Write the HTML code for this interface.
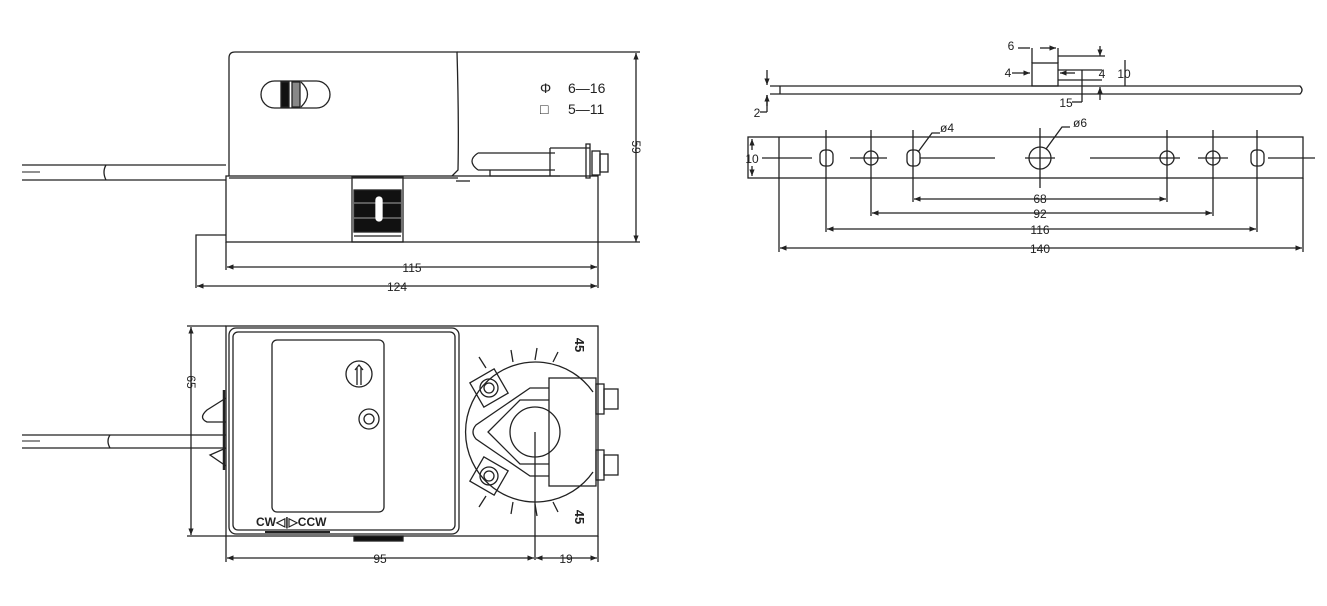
<!DOCTYPE html>
<html><head><meta charset="utf-8"><style>
html,body{margin:0;padding:0;background:#fff}
svg{display:block}
text{font-family:"Liberation Sans",sans-serif;fill:#222}
</style></head><body>
<svg width="1327" height="606" viewBox="0 0 1327 606" xmlns="http://www.w3.org/2000/svg">
<defs>
<marker id="a" viewBox="0 0 10 10" refX="10" refY="5" markerWidth="6" markerHeight="5" orient="auto-start-reverse"><path d="M0,1 L10,5 L0,9 z" fill="#222"/></marker>
</defs>
<g stroke="#222" stroke-width="1.3" fill="none">
<!-- ===== TOP LEFT VIEW ===== -->
<path d="M229,176 V58 Q229,52 235,52 H457 Q459,120 458,170 L452,176"/>
<line x1="457" y1="52" x2="640" y2="52"/>
<rect x="226" y="176" width="372" height="66"/>
<line x1="229" y1="178" x2="458" y2="178"/>
<path d="M226,235 H196 V288"/>
<line x1="598" y1="242" x2="598" y2="288"/>
<line x1="226" y1="242" x2="226" y2="270"/>
<!-- slot -->
<rect x="352" y="177" width="51" height="65"/>
<rect x="354" y="190" width="47" height="42" fill="#111"/>
<line x1="354" y1="203" x2="401" y2="203" stroke="#888"/>
<line x1="354" y1="218" x2="401" y2="218" stroke="#888"/>
<rect x="376" y="197" width="6" height="24" rx="3" fill="#fff" stroke="#fff"/>
<line x1="354" y1="236" x2="401" y2="236"/>
<!-- switch pill -->
<rect x="261" y="81" width="69" height="27" rx="13.5"/>
<rect x="281" y="82" width="8" height="25" fill="#111"/>
<rect x="292" y="82" width="8" height="25" fill="#888"/>
<path d="M301,82 Q314,94 301,107"/>
<!-- bracket right -->
<path d="M478,153 H555 M478,170 H555 M478,153 Q466,161 478,170"/>
<path d="M490,170 V176 H560 M550,148 H590 M550,148 V176 M590,144 V178 H586 V144 z"/>
<rect x="592" y="151" width="8" height="24"/>
<rect x="600" y="154" width="8" height="18"/>
<line x1="456" y1="181" x2="470" y2="181"/>
<!-- wire -->
<path d="M22,165 H226 M22,180 H226 M106,165 Q102,172 106,180"/>
<line x1="22" y1="172" x2="40" y2="172" stroke-width="1"/>
<!-- dims -->
<line x1="636" y1="53" x2="636" y2="242" marker-start="url(#a)" marker-end="url(#a)"/>
<line x1="598" y1="242" x2="640" y2="242"/>
<line x1="227" y1="267" x2="597" y2="267" marker-start="url(#a)" marker-end="url(#a)"/>
<line x1="197" y1="286" x2="597" y2="286" marker-start="url(#a)" marker-end="url(#a)"/>
<!-- ===== BOTTOM LEFT VIEW ===== -->
<rect x="226" y="326" width="372" height="210"/>
<rect x="229" y="328" width="230" height="206" rx="7"/>
<rect x="233" y="332" width="222" height="198" rx="5"/>
<rect x="272" y="340" width="112" height="172" rx="5"/>
<circle cx="359" cy="374" r="13"/>
<path d="M357,385 V368 M361,385 V368 M355,370 L359,365 L363,370"/>
<circle cx="369" cy="419" r="10"/><circle cx="369" cy="419" r="5"/>
<line x1="265" y1="532" x2="330" y2="532" stroke-width="2"/>
<rect x="354" y="536" width="49" height="5" fill="#111"/>
<!-- tab -->
<path d="M226,398 L207,410 Q198,418 207,422 L226,422 M226,448 L210,455 L226,466"/>
<line x1="224" y1="390" x2="224" y2="470" stroke-width="2.5"/>
<!-- wire -->
<path d="M22,435 H226 M22,448 H226 M110,435 Q106,441 110,448"/>
<line x1="22" y1="441" x2="40" y2="441" stroke-width="1"/>
<!-- dial -->
<path d="M593,392 A70,70 0 1 0 593,472"/>
<path d="M479,357 L486,368 M511,350 L513,362 M537,348 L535,360 M558,352 L553,362 M479,507 L486,496 M511,514 L513,502 M537,516 L535,504 M558,512 L553,502"/>
<g transform="rotate(-30 489 388)"><rect x="475" y="374" width="28" height="28"/></g>
<circle cx="489" cy="388" r="9"/><circle cx="489" cy="388" r="5"/>
<g transform="rotate(30 489 476)"><rect x="475" y="462" width="28" height="28"/></g>
<circle cx="489" cy="476" r="9"/><circle cx="489" cy="476" r="5"/>
<path d="M549,388 H530 L476,425 Q470,432 476,439 L530,476 H549"/>
<path d="M549,400 L520,400 L488,432 L520,464 H549"/>
<circle cx="535" cy="432" r="25"/>
<rect x="549" y="378" width="47" height="108"/>
<rect x="596" y="384" width="8" height="30"/><rect x="604" y="389" width="14" height="20"/>
<rect x="596" y="450" width="8" height="30"/><rect x="604" y="455" width="14" height="20"/>
<line x1="535" y1="432" x2="535" y2="560"/>
<!-- dims -->
<line x1="191" y1="327" x2="191" y2="535" marker-start="url(#a)" marker-end="url(#a)"/>
<line x1="187" y1="326" x2="226" y2="326"/><line x1="187" y1="536" x2="226" y2="536"/>
<line x1="226" y1="536" x2="226" y2="562"/><line x1="598" y1="536" x2="598" y2="562"/>
<line x1="227" y1="558" x2="534" y2="558" marker-start="url(#a)" marker-end="url(#a)"/>
<line x1="536" y1="558" x2="597" y2="558" marker-start="url(#a)" marker-end="url(#a)"/>
<!-- ===== RIGHT VIEW ===== -->
<path d="M770,86 H1300 Q1304,90 1300,94 H770 M780,86 V94"/>
<rect x="1032" y="63" width="26" height="23"/>
<path d="M1032,63 V48 M1058,63 V48 M1058,56 H1105 M1058,70 H1102 M1058,80 H1102"/>
<line x1="1036" y1="48" x2="1036" y2="48"/>
<path d="M1018,48 H1030" /><line x1="1040" y1="48" x2="1056" y2="48" marker-end="url(#a)"/>
<line x1="1012" y1="73" x2="1030" y2="73" marker-end="url(#a)"/>
<line x1="1075" y1="73" x2="1060" y2="73" marker-end="url(#a)"/>
<line x1="1082" y1="70" x2="1082" y2="102"/>
<path d="M1082,102 H1072"/>
<line x1="1100" y1="46" x2="1100" y2="56" marker-end="url(#a)"/>
<line x1="1100" y1="100" x2="1100" y2="87" marker-end="url(#a)"/>
<line x1="1125" y1="60" x2="1125" y2="86"/>
<line x1="767" y1="70" x2="767" y2="85" marker-end="url(#a)"/>
<path d="M767,112 V95"/><line x1="767" y1="106" x2="767" y2="95" marker-end="url(#a)"/>
<path d="M767,112 H760"/>
<!-- bracket -->
<rect x="748" y="137" width="555" height="41"/>
<line x1="779" y1="137" x2="779" y2="252"/>
<line x1="1303" y1="178" x2="1303" y2="252"/>
<line x1="762" y1="158" x2="812" y2="158"/>
<line x1="850" y1="158" x2="887" y2="158"/>
<line x1="920" y1="158" x2="995" y2="158"/>
<line x1="1025" y1="158" x2="1055" y2="158"/>
<line x1="1090" y1="158" x2="1180" y2="158"/>
<line x1="1198" y1="158" x2="1228" y2="158"/>
<line x1="1268" y1="158" x2="1315" y2="158"/>
<rect x="820" y="150" width="13" height="16" rx="5"/>
<circle cx="871" cy="158" r="7"/>
<rect x="907" y="150" width="13" height="16" rx="5"/>
<circle cx="1040" cy="158" r="11"/>
<circle cx="1167" cy="158" r="7"/>
<circle cx="1213" cy="158" r="7"/>
<rect x="1251" y="150" width="13" height="16" rx="5"/>
<line x1="826" y1="130" x2="826" y2="232"/>
<line x1="871" y1="130" x2="871" y2="216"/>
<line x1="913" y1="130" x2="913" y2="202"/>
<line x1="1040" y1="128" x2="1040" y2="188"/>
<line x1="1167" y1="130" x2="1167" y2="202"/>
<line x1="1213" y1="130" x2="1213" y2="216"/>
<line x1="1257" y1="130" x2="1257" y2="232"/>
<path d="M918,152 L932,133 H940 M1046,149 L1062,127 H1070"/>
<line x1="752" y1="139" x2="752" y2="150" marker-start="url(#a)"/>
<line x1="752" y1="166" x2="752" y2="176" marker-end="url(#a)"/>
<line x1="914" y1="199" x2="1166" y2="199" marker-start="url(#a)" marker-end="url(#a)"/>
<line x1="872" y1="213" x2="1212" y2="213" marker-start="url(#a)" marker-end="url(#a)"/>
<line x1="827" y1="229" x2="1256" y2="229" marker-start="url(#a)" marker-end="url(#a)"/>
<line x1="780" y1="248" x2="1302" y2="248" marker-start="url(#a)" marker-end="url(#a)"/>
</g>
<!-- texts -->
<g font-size="14">
<text x="540" y="93">Φ</text><text x="568" y="93">6—16</text>
<text x="540" y="114">□</text><text x="568" y="114">5—11</text>
</g>
<g font-size="12" text-anchor="middle">
<text x="412" y="272">115</text>
<text x="397" y="291">124</text>
<text x="636" y="151" transform="rotate(90 636 147)">59</text>
<text x="191" y="386" transform="rotate(90 191 382)">65</text>
<text x="380" y="563">95</text>
<text x="566" y="563">19</text>
<text x="1040" y="203">68</text>
<text x="1040" y="218">92</text>
<text x="1040" y="234">116</text>
<text x="1040" y="253">140</text>
<text x="752" y="163">10</text>
<text x="1011" y="50">6</text>
<text x="1008" y="77">4</text>
<text x="1102" y="78">4</text>
<text x="1124" y="78">10</text>
<text x="1066" y="107">15</text>
<text x="757" y="117">2</text>
<text x="947" y="132">ø4</text>
<text x="1080" y="127">ø6</text>
</g>
<g font-size="13" font-weight="bold">
<text x="575" y="345" transform="rotate(90 575 345)" text-anchor="middle">45</text>
<text x="575" y="517" transform="rotate(90 575 517)" text-anchor="middle">45</text>
<text x="256" y="526" font-size="12">CW◁|▷CCW</text>
</g>
</svg>
</body></html>
